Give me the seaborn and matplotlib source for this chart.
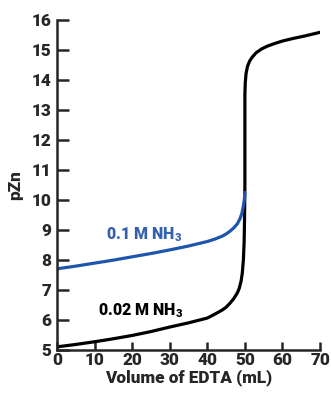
import matplotlib
matplotlib.use('Agg')
import matplotlib.pyplot as plt
import seaborn as sns
import pandas as pd

# black curve: 0.02 M NH3
vol_low = [0, 5, 10, 15, 20, 25, 30, 35, 40, 42, 44, 45, 46, 47, 48, 48.5, 49, 49.3, 49.6, 49.8, 49.9,
           50, 50, 50.1, 50.3, 50.7, 51.3, 52, 53, 54.5, 56, 58, 60, 63, 66, 70]
pzn_low = [5.1, 5.18, 5.27, 5.37, 5.48, 5.61, 5.76, 5.9, 6.06, 6.19, 6.33, 6.42, 6.55, 6.7, 6.9, 7.05,
           7.3, 7.55, 8.0, 8.6, 9.3, 10.5, 13.5, 13.9, 14.2, 14.45, 14.63, 14.76, 14.9, 15.03, 15.12,
           15.21, 15.29, 15.38, 15.46, 15.58]

# blue curve: 0.1 M NH3
vol_high = [0, 5, 10, 15, 20, 25, 30, 35, 40, 42, 44, 45, 46, 47, 48, 48.7, 49.2, 49.6, 49.9, 50]
pzn_high = [7.7, 7.79, 7.89, 7.99, 8.1, 8.21, 8.33, 8.46, 8.61, 8.69, 8.79, 8.86, 8.95, 9.06, 9.2,
            9.37, 9.55, 9.8, 10.05, 10.25]

label_low = r"0.02 M NH$_\mathbf{3}$"
label_high = r"0.1 M NH$_\mathbf{3}$"
xticks = [0, 10, 20, 30, 40, 50, 60, 70]
yticks = list(range(5, 17))

BLUE = '#1f56ad'
FS = 12.3
W = 'heavy'

sns.set_style('ticks')
plt.rcParams['font.family'] = ['Roboto', 'DejaVu Sans']
plt.rcParams['font.weight'] = W
plt.rcParams['mathtext.fontset'] = 'custom'
plt.rcParams['mathtext.rm'] = 'Roboto:heavy'
plt.rcParams['mathtext.bf'] = 'Roboto:heavy'

df_low = pd.DataFrame({'vol': vol_low, 'pzn': pzn_low})
df_high = pd.DataFrame({'vol': vol_high, 'pzn': pzn_high})

fig = plt.figure(figsize=(3.31, 3.94), dpi=100)
ax = fig.add_axes([0.172, 0.112, 0.795, 0.838])

sns.lineplot(data=df_low, x='vol', y='pzn', ax=ax, color='black', lw=2.3,
             sort=False, estimator=None)
sns.lineplot(data=df_high, x='vol', y='pzn', ax=ax, color=BLUE, lw=2.3,
             sort=False, estimator=None)

ax.set_xlim(0, 70)
ax.set_ylim(5, 16)
ax.set_xticks(xticks)
ax.set_yticks(yticks)
sns.despine(ax=ax)
for s in ['left', 'bottom']:
    ax.spines[s].set_linewidth(1.8)
ax.tick_params(axis='y', direction='in', width=1.8, length=8.5, labelsize=FS, pad=4)
ax.tick_params(axis='x', direction='in', width=1.8, length=6, labelsize=FS, pad=1.5)
for lab in ax.get_xticklabels() + ax.get_yticklabels():
    lab.set_fontweight(W)

ax.set_xlabel('Volume of EDTA (mL)', fontsize=FS, fontweight=W, labelpad=1)
ax.set_ylabel('pZn', fontsize=FS, fontweight=W, labelpad=6)

ax.text(23.3, 8.85, label_high, color='#3560b0', fontsize=FS - 0.8, fontweight=W,
        ha='center', va='center')
ax.text(22.2, 6.3, label_low, color='black', fontsize=FS - 0.8, fontweight=W,
        ha='center', va='center')

fig.savefig('out.png', dpi=100)
